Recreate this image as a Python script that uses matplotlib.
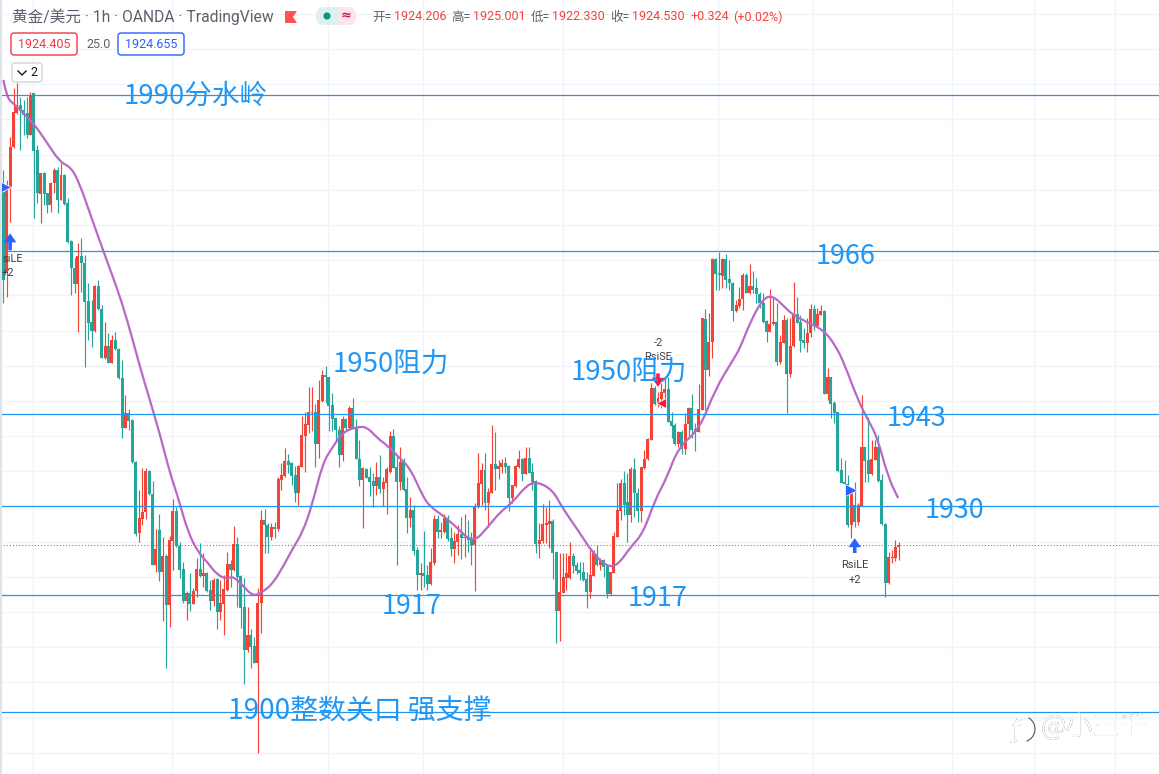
import matplotlib
matplotlib.use('Agg')
import matplotlib.pyplot as plt
from matplotlib.patches import Rectangle, FancyBboxPatch, Arc, Circle, Polygon, PathPatch
from matplotlib.path import Path
from matplotlib.transforms import IdentityTransform

plt.rcParams['font.family'] = ['Noto Sans CJK SC', 'DejaVu Sans']

# gold / usd 1h candles
opens = [
    1974.7,1963.3,1975.4,1981.1,1985.9,1987.0,1986.3,1985.9,1982.8,1988.7,
    1980.6,1974.4,1977.4,1974.5,1972.8,1975.9,1977.8,1973.5,1977.1,1973.1,
    1967.7,1963.9,1961.6,1965.6,1964.6,1959.2,1956.2,1954.9,1961.3,1958.1,
    1951.1,1952.8,1950.4,1953.7,1952.4,1948.3,1941.2,1943.3,1942.3,1936.3,
    1926.2,1928.2,1929.2,1935.0,1931.8,1921.7,1926.7,1920.7,1923.0,1916.0,
    1925.1,1929.4,1924.4,1921.1,1916.6,1917.7,1916.2,1918.0,1921.1,1920.1,
    1920.6,1918.1,1916.6,1919.7,1915.0,1916.2,1918.1,1921.8,1921.0,1924.7,
    1920.1,1915.7,1909.6,1911.7,1910.2,1907.8,1916.3,1928.1,1927.4,1925.7,
    1927.1,1926.8,1933.8,1934.3,1936.4,1936.2,1934.5,1931.9,1935.6,1940.0,
    1941.6,1943.3,1943.4,1938.9,1945.0,1948.7,1948.4,1944.4,1942.6,1940.9,
    1937.3,1942.4,1941.2,1944.0,1941.2,1936.7,1933.8,1935.3,1934.2,1933.6,
    1932.9,1934.2,1932.5,1933.3,1934.9,1940.0,1935.6,1933.5,1936.3,1932.5,
    1928.4,1929.5,1923.8,1920.3,1920.6,1920.3,1919.0,1922.0,1928.2,1926.4,
    1926.4,1928.4,1925.5,1924.0,1925.0,1926.1,1925.5,1925.7,1925.4,1924.6,
    1929.9,1933.2,1935.2,1930.5,1931.9,1936.0,1935.3,1935.6,1936.2,1935.8,
    1931.2,1932.9,1935.6,1936.7,1934.6,1936.9,1934.9,1933.6,1924.7,1925.1,
    1927.4,1927.5,1927.9,1923.5,1915.2,1917.7,1919.8,1919.8,1923.0,1921.7,
    1921.0,1920.7,1919.7,1917.9,1920.1,1923.3,1921.7,1922.4,1921.6,1917.6,
    1920.6,1925.7,1929.4,1933.3,1930.6,1928.8,1935.3,1931.9,1929.4,1935.5,
    1936.7,1939.4,1946.8,1944.6,1945.3,1946.1,1946.7,1942.2,1941.6,1938.9,
    1940.6,1938.2,1941.7,1944.0,1941.0,1940.6,1943.7,1956.6,1949.4,1953.4,
    1965.2,1963.2,1962.7,1965.2,1962.3,1961.7,1957.8,1958.5,1959.5,1962.9,
    1960.3,1961.3,1961.0,1960.2,1958.9,1956.4,1954.8,1955.9,1956.2,1950.5,
    1953.2,1956.5,1948.8,1952.8,1957.3,1956.2,1953.7,1953.2,1954.6,1958.1,
    1955.6,1957.2,1957.8,1946.0,1948.4,1944.7,1943.4,1935.2,1933.5,1933.2,
    1927.4,1930.2,1927.8,1930.1,1938.5,1936.6,1934.6,1936.6,1938.5,1933.8,
    1927.5,1919.1,1922.7,1922.7,1924.206]
closes = [
    1962.2,1975.0,1981.1,1986.0,1987.0,1986.3,1985.6,1982.8,1988.5,1980.5,
    1974.5,1977.4,1974.4,1972.8,1975.9,1977.8,1973.5,1977.1,1973.0,1967.6,
    1963.9,1961.6,1965.6,1964.6,1959.1,1956.1,1954.9,1961.3,1958.1,1951.1,
    1952.8,1950.4,1953.7,1952.4,1948.3,1941.2,1943.3,1942.2,1936.3,1926.1,
    1928.4,1929.2,1935.0,1931.8,1921.7,1924.0,1920.7,1923.0,1916.0,1925.2,
    1929.4,1924.4,1921.0,1916.6,1917.7,1916.2,1918.0,1921.1,1920.1,1920.6,
    1918.0,1916.6,1919.6,1915.0,1916.3,1918.3,1921.8,1921.0,1924.7,1920.0,
    1915.6,1909.6,1911.7,1910.0,1907.8,1916.3,1928.1,1927.4,1925.7,1927.1,
    1926.8,1933.9,1934.5,1936.4,1935.9,1934.3,1931.9,1935.8,1940.2,1941.7,
    1943.4,1943.4,1938.9,1945.1,1948.7,1948.4,1944.3,1942.4,1940.9,1937.3,
    1942.4,1941.2,1944.0,1941.2,1936.7,1933.8,1935.5,1934.1,1933.5,1932.9,
    1934.2,1932.5,1933.5,1935.3,1940.0,1935.5,1933.5,1936.3,1932.3,1928.4,
    1929.5,1923.7,1920.3,1920.6,1920.1,1919.0,1922.1,1928.2,1926.4,1926.7,
    1928.4,1925.4,1924.0,1925.1,1926.1,1925.5,1925.7,1925.2,1924.6,1929.9,
    1933.3,1935.2,1930.5,1932.1,1936.0,1935.3,1935.8,1936.2,1935.6,1931.2,
    1933.1,1935.8,1936.7,1934.6,1936.9,1934.8,1933.5,1924.7,1925.2,1927.5,
    1927.7,1927.9,1923.4,1915.2,1917.9,1920.0,1920.6,1923.0,1921.6,1920.8,
    1920.6,1919.6,1917.9,1920.3,1923.4,1921.7,1922.4,1921.4,1917.6,1920.7,
    1925.8,1929.5,1933.3,1930.2,1928.8,1935.3,1931.9,1929.4,1935.6,1936.7,
    1939.6,1946.8,1944.6,1945.4,1946.3,1946.7,1942.0,1941.4,1938.9,1940.6,
    1938.2,1941.7,1944.0,1940.9,1940.6,1943.9,1956.8,1949.4,1953.4,1965.2,
    1963.0,1962.9,1965.2,1962.2,1961.7,1957.8,1958.6,1959.5,1962.9,1960.3,
    1961.3,1960.8,1960.2,1958.9,1956.2,1954.8,1955.9,1956.2,1950.5,1953.4,
    1956.5,1948.8,1952.8,1957.3,1956.1,1953.5,1953.2,1954.6,1958.1,1955.6,
    1957.3,1957.8,1946.0,1948.4,1944.6,1943.3,1935.0,1933.3,1933.2,1927.4,
    1931.9,1927.8,1930.2,1938.5,1936.5,1934.6,1936.7,1938.5,1933.6,1927.5,
    1919.1,1922.8,1922.8,1924.3,1924.53]
highs = [
    1977.8,1976.4,1982.5,1989.5,1990.2,1988.2,1987.7,1988.2,1988.9,1988.7,
    1981.4,1977.4,1977.5,1974.5,1976.1,1978.1,1978.2,1978.8,1977.2,1973.8,
    1967.9,1965.4,1967.4,1968.1,1965.7,1961.8,1959.3,1961.5,1962.2,1958.6,
    1956.2,1954.6,1954.4,1954.8,1952.5,1950.8,1945.8,1943.9,1942.4,1936.5,
    1932.3,1935.5,1935.5,1935.2,1933.6,1926.8,1928.9,1925.7,1923.3,1925.8,
    1931.1,1929.9,1925.0,1922.1,1918.0,1920.6,1918.4,1922.7,1924.8,1923.4,
    1920.7,1919.6,1919.9,1919.9,1919.6,1920.3,1923.5,1922.4,1927.2,1925.7,
    1920.3,1919.9,1915.7,1912.6,1911.4,1918.4,1929.5,1929.6,1927.6,1927.6,
    1927.8,1934.2,1936.2,1938.3,1937.5,1936.3,1935.8,1935.9,1942.9,1943.4,
    1947.0,1947.0,1944.6,1948.0,1949.4,1949.9,1948.4,1946.1,1942.6,1941.4,
    1942.9,1942.6,1944.3,1945.4,1942.4,1939.5,1935.6,1935.5,1935.6,1934.8,
    1936.3,1937.3,1934.2,1935.6,1940.7,1941.0,1937.3,1938.5,1936.9,1934.2,
    1931.4,1930.2,1924.3,1922.0,1926.5,1921.7,1924.1,1928.8,1928.8,1927.8,
    1928.9,1928.8,1927.1,1926.4,1927.4,1928.5,1928.9,1928.1,1926.4,1930.5,
    1937.6,1936.2,1937.6,1932.6,1941.6,1940.6,1936.6,1936.7,1937.0,1935.9,
    1933.1,1935.9,1938.0,1936.9,1938.5,1938.5,1936.2,1933.8,1927.6,1930.4,
    1929.9,1930.9,1928.2,1923.5,1923.4,1923.4,1923.4,1925.0,1923.4,1922.1,
    1922.1,1922.1,1920.7,1923.8,1923.8,1924.6,1922.7,1922.5,1921.7,1920.7,
    1926.4,1933.3,1933.9,1935.0,1934.8,1935.6,1936.9,1932.6,1935.6,1938.0,
    1939.7,1947.5,1947.1,1946.3,1947.5,1948.3,1948.4,1943.4,1941.9,1940.7,
    1940.9,1943.3,1944.1,1946.0,1941.9,1947.4,1956.8,1958.1,1957.5,1965.3,
    1965.3,1966.2,1965.3,1965.9,1965.0,1961.9,1959.3,1961.2,1963.2,1963.2,
    1964.5,1963.5,1962.5,1960.5,1960.3,1956.5,1960.9,1959.8,1958.9,1954.4,
    1957.2,1956.8,1956.8,1961.9,1959.8,1957.2,1955.3,1956.8,1958.8,1958.6,
    1958.2,1958.6,1957.9,1949.7,1948.4,1945.0,1943.4,1936.9,1936.6,1934.5,
    1932.3,1933.5,1930.5,1945.8,1938.5,1942.7,1939.5,1939.5,1940.2,1934.6,
    1927.7,1923.5,1923.8,1925.2,1925.001]
lows = [
    1958.9,1959.8,1970.4,1980.9,1985.8,1980.6,1982.8,1982.4,1982.8,1971.0,
    1973.1,1970.3,1972.8,1971.7,1971.8,1974.5,1971.7,1973.5,1972.8,1967.5,
    1960.0,1960.3,1954.8,1960.5,1949.8,1953.7,1952.7,1954.8,1957.9,1951.1,
    1951.0,1950.4,1950.4,1952.2,1948.1,1939.7,1941.2,1940.9,1936.2,1925.8,
    1925.0,1927.4,1928.2,1931.6,1921.7,1920.7,1919.4,1913.7,1907.1,1912.9,
    1921.0,1924.3,1919.9,1916.3,1913.9,1915.2,1916.2,1917.2,1920.0,1918.6,
    1917.9,1915.3,1915.9,1912.6,1913.9,1911.7,1918.0,1918.6,1920.8,1915.7,
    1912.7,1904.8,1909.3,1907.1,1907.8,1895.0,1912.0,1923.4,1923.4,1925.2,
    1925.5,1926.5,1932.3,1934.2,1934.8,1933.1,1930.6,1930.2,1935.6,1934.9,
    1940.5,1940.7,1935.6,1936.9,1944.8,1944.7,1940.7,1940.7,1939.2,1935.6,
    1936.4,1940.9,1941.0,1941.2,1936.7,1932.9,1926.9,1934.1,1931.5,1929.9,
    1931.6,1931.9,1930.1,1928.9,1934.8,1935.5,1921.7,1932.3,1932.2,1926.2,
    1927.1,1923.1,1918.1,1918.1,1918.6,1918.1,1918.8,1921.7,1925.5,1925.5,
    1926.2,1925.1,1923.0,1922.0,1923.1,1922.5,1922.8,1923.5,1921.7,1918.0,
    1929.8,1930.2,1929.5,1927.1,1931.9,1932.3,1933.9,1934.8,1934.8,1929.4,
    1930.5,1932.8,1935.5,1933.6,1934.6,1934.8,1932.3,1923.4,1922.7,1924.8,
    1924.8,1924.1,1919.7,1910.6,1910.9,1917.7,1918.1,1919.7,1920.6,1920.4,
    1919.6,1919.4,1915.6,1917.0,1920.1,1921.6,1921.0,1920.0,1917.0,1917.4,
    1920.6,1925.7,1928.1,1928.8,1925.0,1927.8,1928.5,1927.8,1927.8,1935.3,
    1936.6,1939.4,1944.4,1944.1,1944.0,1945.1,1942.0,1939.7,1938.7,1938.5,
    1937.5,1937.5,1939.7,1939.7,1937.9,1940.6,1943.7,1943.7,1948.5,1951.1,
    1960.8,1960.8,1961.0,1961.0,1960.8,1956.4,1957.6,1958.2,1957.9,1960.3,
    1960.2,1960.3,1958.9,1958.2,1956.1,1953.4,1954.8,1955.8,1950.1,1950.3,
    1953.2,1943.3,1948.4,1952.7,1956.1,1951.9,1952.5,1951.9,1954.1,1955.1,
    1955.5,1957.2,1946.0,1945.1,1942.6,1941.9,1934.9,1933.3,1933.1,1927.1,
    1925.5,1927.1,1927.4,1930.0,1933.5,1933.5,1934.5,1936.6,1933.5,1927.4,
    1917.1,1919.0,1922.0,1922.3,1922.33]

# moving average, read at the bends of the purple line
ma_bars = [0,1.1,2.9,8.8,12.3,16.7,20,22.6,25.5,29.4,32.3,35,37.9,40.3,43.2,46.2,49.1,51.5,54.4,57.4,
           60.3,63,65.9,67.7,70.4,73.6,76.6,79.5,82.4,85.4,88.3,91,94.2,96.9,100.1,104.3,107.2,110.5,
           113.4,116.1,119.9,123.7,125.8,130.2,133.7,138.5,142.9,146.4,150,154.4,157.6,162,164.7,170,
           173.8,178,181.2,184.7,188.6,192.1,195.7,198.9,205.4,209.8,215.1,217.2,220.1,224,226.9,229.8,
           232.8,236.9,241.7,245.2,248.1,251.7,254.9,257.6,260.8,263.8]
ma_vals = [1990.6,1988.0,1987.3,1984.5,1982.1,1978.9,1978.2,1975.7,1971.7,1966.4,1962.6,1958.9,1954.1,1949.8,
           1945.1,1940.2,1934.8,1931.3,1926.4,1923.5,1922.0,1920.3,1919.7,1920.1,1918.9,1917.2,1917.9,1919.1,
           1921.4,1924.1,1926.4,1930.2,1936.2,1938.3,1940.6,1941.3,1941.3,1939.6,1938.6,1937.2,1935.5,1931.4,
           1930.0,1928.5,1927.0,1924.8,1927.1,1929.2,1930.5,1933.1,1933.5,1932.3,1929.9,1926.2,1923.4,1921.4,
           1921.7,1924.1,1926.2,1930.9,1934.2,1938.3,1941.1,1946.6,1950.8,1952.5,1956.1,1959.6,1959.9,1958.6,
           1957.2,1956.2,1955.1,1953.0,1950.1,1945.4,1942.3,1939.9,1934.2,1931.2]

level_prices = [1988.4, 1966.3, 1943.1, 1930.1, 1917.4, 1900.8]
level_colors = ['#3A8FD8', '#2196F3', '#2196F3', '#2196F3', '#3A8FD8', '#2196F3']
last_price = 1924.53
grid_prices = list(range(1895, 2005, 5))
grid_bars = [8.75, 49.7, 95.7, 123.7, 165, 210.7, 238.7, 279.7, 303.9, 327.7]

up_color = '#F44336'
down_color = '#26A69A'
blue = '#2196F3'
gray = '#5D606B'
W, H = 1159, 774

fig = plt.figure(figsize=(W / 100, H / 100), dpi=100, facecolor='white')
ax = fig.add_axes([0, 0, 1, 1])
ax.set_xlim(-0.982, 340.7)
ax.set_ylim(1892.0, 2001.95)
for s in ax.spines.values():
    s.set_visible(False)
ax.set_xticks(grid_bars)
ax.set_yticks(grid_prices)
ax.tick_params(length=0, labelbottom=False, labelleft=False)
ax.grid(color='#F0F3FA', lw=1.0)
ax.set_axisbelow(True)

# candles
bars = list(range(len(opens)))
colors = [up_color if c >= o else down_color for o, c in zip(opens, closes)]
ax.vlines(bars, lows, highs, colors=colors, lw=0.85, zorder=3)
bottoms = [min(o, c) for o, c in zip(opens, closes)]
sizes = [max(abs(c - o), 0.15) for o, c in zip(opens, closes)]
ax.bar(bars, sizes, bottom=bottoms, width=0.88, color=colors, lw=0, zorder=3, antialiased=False)

# the purple line, curved through the read points so that it has no corners
verts = [(ma_bars[0], ma_vals[0])]
codes = [Path.MOVETO]
for k in range(1, len(ma_bars) - 1):
    verts.append((ma_bars[k], ma_vals[k]))
    verts.append(((ma_bars[k] + ma_bars[k + 1]) / 2, (ma_vals[k] + ma_vals[k + 1]) / 2))
    codes += [Path.CURVE3, Path.CURVE3]
verts.append((ma_bars[-1], ma_vals[-1]))
codes.append(Path.LINETO)
ax.add_patch(PathPatch(Path(verts, codes), fc='none', ec='#BA68C8', lw=1.6, zorder=4))

for p, col in zip(level_prices, level_colors):
    ax.axhline(p, color=col, lw=0.9, zorder=5)
ax.axhline(last_price, color=up_color, lw=0.75, ls=(0, (1, 2)), zorder=2)


def txt(x, y, s, px, color=gray, ha='left', **kw):
    return fig.text(x / W, 1 - y / H, s, fontsize=px * 0.72, color=color, ha=ha, va='center', zorder=10, **kw)


def rbox(x0, y0, x1, y1, edge, face='white', r=3, lw=1.0):
    # rounded box given in pixels from the top left
    fig.patches.append(FancyBboxPatch((x0, H - y1), x1 - x0, y1 - y0,
                                      boxstyle='round,pad=0,rounding_size=%g' % r,
                                      transform=IdentityTransform(), fc=face, ec=edge, lw=lw, zorder=9))


# signal markers
sig_blue = '#2962FF'
sig_red = '#FF1744'


def arrow(bar, tip, tail, color):
    ax.annotate('', xy=(bar, tip), xytext=(bar, tail), zorder=6,
                arrowprops=dict(width=2.6, headwidth=9, headlength=6.5, shrink=0, color=color, lw=0))


arrow(2, 1968.8, 1966.4, sig_blue)
arrow(251, 1925.5, 1923.4, sig_blue)
arrow(193, 1947.0, 1948.9, sig_red)
ax.plot([0.5], [1975.4], marker='>', ms=8, color=sig_blue, mec='white', mew=0.5, zorder=6)
ax.plot([250], [1932.3], marker='>', ms=8, color=sig_blue, mec='white', mew=0.5, zorder=6)
ax.plot([194], [1944.7], marker='<', ms=6.5, color=sig_red, mec='white', mew=0.5, zorder=6)

latin = ['Roboto', 'Noto Sans CJK SC']
txt(2, 259, 'siLE', 11, '#3C3F48', family=latin)
txt(2, 273, '+2', 11, '#3C3F48', family=latin)
txt(855, 565, 'RsiLE', 11, '#3C3F48', ha='center', family=latin)
txt(855, 580, '+2', 11, '#3C3F48', ha='center', family=latin)
txt(658, 343, '-2', 11, '#3C3F48', ha='center', family=latin)
txt(658, 357, 'RsiSE', 11, '#3C3F48', ha='center', family=latin)

# left strip
fig.patches.append(Rectangle((0, 0), 2 / W, 1, transform=fig.transFigure, fc='#E0E3EB', lw=0, zorder=8))

# annotations written on the chart
txt(124, 96, '1990分水岭', 27.6, blue)
txt(816, 257, '1966', 27, blue)
txt(333, 364, '1950阻力', 27.6, blue)
txt(571, 372, '1950阻力', 27.6, blue)
txt(887, 419, '1943', 27, blue)
txt(925, 510, '1930', 27, blue)
txt(382, 607, '1917', 27, blue)
txt(628, 599, '1917', 27, blue)
txt(228, 711, '1900整数关口 强支撑', 27.9, blue)

# header
txt(12, 17, '黄金/美元 · 1h · OANDA · TradingView', 15.6, family=latin)
fig.patches.append(Polygon([(285 / W, 1 - 11 / H), (297 / W, 1 - 11 / H), (293 / W, 1 - 17 / H), (297 / W, 1 - 23 / H),
                            (285 / W, 1 - 23 / H)], transform=fig.transFigure, fc='#FF5252', lw=0, zorder=9))

rbox(336, 7, 356, 25, 'none', '#FCE4EC', r=8, lw=0)
rbox(316, 7, 338, 25, 'none', '#DDF2EF', r=8, lw=0)
fig.patches.append(Rectangle((332 / W, 1 - 25 / H), 6 / W, 18 / H, transform=fig.transFigure, fc='#DDF2EF', lw=0, zorder=9))
fig.patches.append(Rectangle((338 / W, 1 - 25 / H), 6 / W, 18 / H, transform=fig.transFigure, fc='#FCE4EC', lw=0, zorder=9))
fig.patches.append(Circle((327, H - 16), 3.6, transform=IdentityTransform(), fc='#089981', lw=0, zorder=10))
txt(346, 16, '≈', 13, '#C2185B', ha='center', family='DejaVu Sans', weight='bold')

ohlc_red = '#F44336'
txt(372, 17, '开=', 12.5, family=latin)
txt(394, 17, '1924.206', 12.5, ohlc_red, family=latin)
txt(451, 17, '高=', 12.5, family=latin)
txt(473, 17, '1925.001', 12.5, ohlc_red, family=latin)
txt(531, 17, '低=', 12.5, family=latin)
txt(552, 17, '1922.330', 12.5, ohlc_red, family=latin)
txt(610, 17, '收=', 12.5, family=latin)
txt(632, 17, '1924.530', 12.5, ohlc_red, family=latin)
txt(690, 17, '+0.324', 12.5, ohlc_red, family=latin)
txt(733, 17, '(+0.02%)', 12.5, ohlc_red, family=latin)

rbox(11, 33, 77, 55, '#F23645')
txt(44, 44, '1924.405', 12.5, '#F23645', ha='center', family=latin)
txt(86, 44, '25.0', 12.5, family=latin)
rbox(118, 33, 184, 55, '#2962FF')
txt(151, 44, '1924.655', 12.5, '#2962FF', ha='center', family=latin)

rbox(12, 63, 42, 82, '#D1D4DC', 'white')
fig.add_artist(plt.Line2D([18 / W, 22 / W, 26 / W], [1 - 71 / H, 1 - 75 / H, 1 - 71 / H], color='#131722', lw=1.0, zorder=10))
txt(34, 72, '2', 12.5, '#131722', ha='center', family=latin)

# watermark, embossed look: grey text with white slightly off
for dx, col in ((0, '#555555'), (0.7, 'white')):
    txt(1040 + dx, 727, '@小三千', 27, col)
    txt(1011 + dx, 731, 'ƒ', 25, col, family='DejaVu Sans')
fig.patches.append(Arc((1022, H - 729), 26, 26, theta1=-70, theta2=60,
                       transform=IdentityTransform(), color='#555555', lw=0.8, zorder=10))

fig.savefig('out.png', dpi=100)
